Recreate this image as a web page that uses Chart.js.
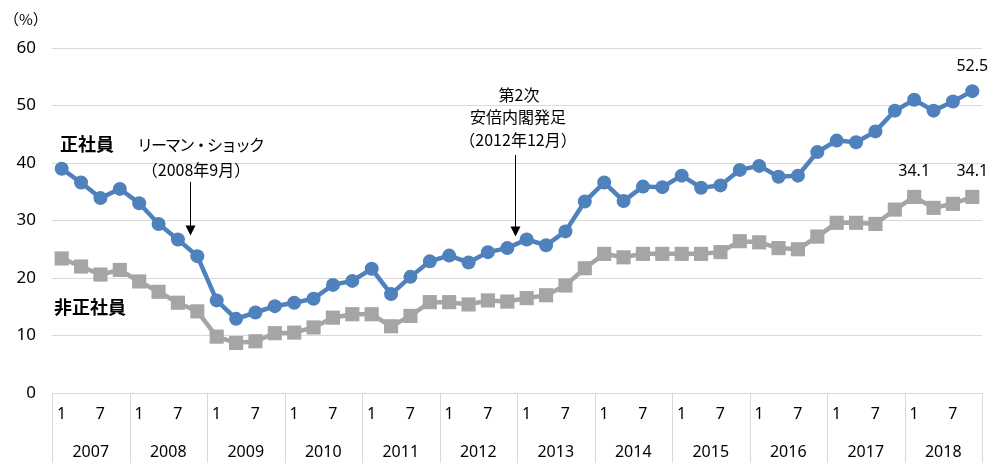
<!DOCTYPE html>
<html>
<head>
<meta charset="utf-8">
<script src="https://cdn.jsdelivr.net/npm/chart.js@4/dist/chart.umd.min.js"></script>
<style>
  html, body { margin: 0; padding: 0; background: #fff; }
  #wrap { width: 992px; height: 463px; position: relative; }
</style>
</head>
<body>
<div id="wrap"><canvas id="chart" width="992" height="463"></canvas></div>
<script>
// quarterly points, 2007 Q1 .. 2018 Q4
const years = ['2007', '2008', '2009', '2010', '2011', '2012', '2013', '2014', '2015', '2016', '2017', '2018'];
const monthLabels = ['1', '', '7', ''];
const regular = [
  39.0, 36.6, 33.9, 35.5,
  33.0, 29.4, 26.7, 23.8,
  16.1, 12.9, 14.0, 15.1,
  15.7, 16.4, 18.8, 19.5,
  21.6, 17.2, 20.2, 22.9,
  23.9, 22.7, 24.5, 25.2,
  26.7, 25.7, 28.1, 33.3,
  36.6, 33.4, 35.9, 35.8,
  37.8, 35.7, 36.1, 38.8,
  39.5, 37.6, 37.8, 41.9,
  43.9, 43.6, 45.5, 49.1,
  51.0, 49.1, 50.7, 52.5
];
const nonRegular = [
  23.4, 22.0, 20.6, 21.4,
  19.4, 17.6, 15.7, 14.2,
  9.8, 8.7, 9.0, 10.4,
  10.5, 11.4, 13.1, 13.7,
  13.7, 11.6, 13.4, 15.8,
  15.8, 15.4, 16.1, 15.9,
  16.5, 17.0, 18.7, 21.7,
  24.2, 23.6, 24.2, 24.2,
  24.2, 24.2, 24.5, 26.4,
  26.2, 25.2, 25.0, 27.2,
  29.6, 29.6, 29.4, 31.9,
  34.1, 32.2, 32.9, 34.1
];
const regularLabelIdx = [47];
const nonRegularLabelIdx = [44, 47];

const labels = [];
years.forEach(y => monthLabels.forEach((m, q) => labels.push(y + '-' + (q + 1))));

const FONT = '"Noto Sans", "Noto Sans CJK JP", sans-serif';
const JFONT = '"Noto Sans CJK JP", sans-serif';

// bottom axis boxes, value labels and annotations
const overlay = {
  id: 'overlay',
  afterDraw(chart) {
    const ctx = chart.ctx;
    const x = chart.scales.x;
    const y = chart.scales.y;
    const area = chart.chartArea;
    const n = labels.length;
    const step = (area.right - area.left) / n;
    ctx.save();

    // year separators below the plot
    ctx.strokeStyle = '#d9d9d9';
    ctx.lineWidth = 1;
    for (let i = 0; i <= years.length; i++) {
      const px = Math.round(area.left + i * 4 * step) + 0.5;
      ctx.beginPath();
      ctx.moveTo(px, area.bottom);
      ctx.lineTo(px, chart.height);
      ctx.stroke();
    }

    ctx.fillStyle = '#000';
    ctx.font = '16px ' + FONT;
    ctx.textAlign = 'center';
    ctx.textBaseline = 'middle';
    years.forEach((yr, yi) => {
      monthLabels.forEach((m, q) => {
        if (m) ctx.fillText(m, x.getPixelForValue(yi * 4 + q), area.bottom + 21);
      });
      ctx.fillText(yr, area.left + (yi * 4 + 2) * step, area.bottom + 59);
    });

    // value labels
    ctx.font = '16px ' + FONT;
    const m0 = chart.getDatasetMeta(0).data;
    const m1 = chart.getDatasetMeta(1).data;
    regularLabelIdx.forEach(i => ctx.fillText(regular[i].toFixed(1), m0[i].x, m0[i].y - 25));
    nonRegularLabelIdx.forEach(i => ctx.fillText(nonRegular[i].toFixed(1), m1[i].x, m1[i].y - 25));

    // series names
    ctx.font = 'bold 18px ' + JFONT;
    ctx.fillText('正社員', 87, y.getPixelForValue(43.2));
    ctx.fillText('非正社員', 90, y.getPixelForValue(15.0));

    // annotations
    ctx.font = '16px ' + JFONT;
    const lx = x.getPixelForValue(6.6);
    ctx.letterSpacing = '-2px';
    ctx.fillText('リーマン・ショック', 200, y.getPixelForValue(43.2));
    ctx.letterSpacing = '0px';
    ctx.fillText('（2008年9月）', 196, y.getPixelForValue(38.8));
    drawArrow(ctx, lx, y.getPixelForValue(36.7), y.getPixelForValue(27.4));

    const ax = x.getPixelForValue(23.4);
    ctx.fillText('第2次', 519, y.getPixelForValue(51.8));
    ctx.fillText('安倍内閣発足', 518, y.getPixelForValue(48.0));
    ctx.fillText('（2012年12月）', 518, y.getPixelForValue(44.0));
    drawArrow(ctx, ax, y.getPixelForValue(41.4), y.getPixelForValue(27.2));

    // unit
    ctx.font = '15px ' + JFONT;
    ctx.textAlign = 'left';
    ctx.fillText('（%）', 4, 19);
    ctx.restore();
  }
};

function drawArrow(ctx, px, y1, y2) {
  px = Math.round(px) + 0.5;
  ctx.strokeStyle = '#000';
  ctx.lineWidth = 1;
  ctx.beginPath();
  ctx.moveTo(px, y1);
  ctx.lineTo(px, y2 - 8);
  ctx.stroke();
  ctx.beginPath();
  ctx.moveTo(px - 5, y2 - 10);
  ctx.lineTo(px + 5, y2 - 10);
  ctx.lineTo(px, y2);
  ctx.closePath();
  ctx.fill();
}

new Chart(document.getElementById('chart'), {
  type: 'line',
  data: {
    labels: labels,
    datasets: [
      {
        label: '正社員',
        data: regular,
        borderColor: '#4f81bd',
        backgroundColor: '#4f81bd',
        borderWidth: 4.5,
        pointStyle: 'circle',
        pointRadius: 7,
        pointBorderWidth: 0,
        tension: 0
      },
      {
        label: '非正社員',
        data: nonRegular,
        borderColor: '#a5a5a5',
        backgroundColor: '#a5a5a5',
        borderWidth: 4.5,
        pointStyle: 'rect',
        pointRadius: 10,
        pointBorderWidth: 0,
        tension: 0
      }
    ]
  },
  options: {
    responsive: false,
    animation: false,
    layout: { padding: { top: 48, right: 7, left: 0, bottom: 0 } },
    plugins: {
      legend: { display: false },
      tooltip: { enabled: false }
    },
    scales: {
      x: {
        offset: true,
        grid: { display: false },
        border: { display: false },
        ticks: { display: false },
        afterFit(scale) { scale.height = 70; }
      },
      y: {
        min: 0,
        max: 60,
        ticks: {
          stepSize: 10,
          padding: 16,
          color: '#000',
          font: { size: 17, family: FONT }
        },
        grid: { color: '#d9d9d9', drawTicks: false },
        border: { display: false },
        afterFit(scale) { scale.width = 52; }
      }
    }
  },
  plugins: [overlay]
});
</script>
</body>
</html>
